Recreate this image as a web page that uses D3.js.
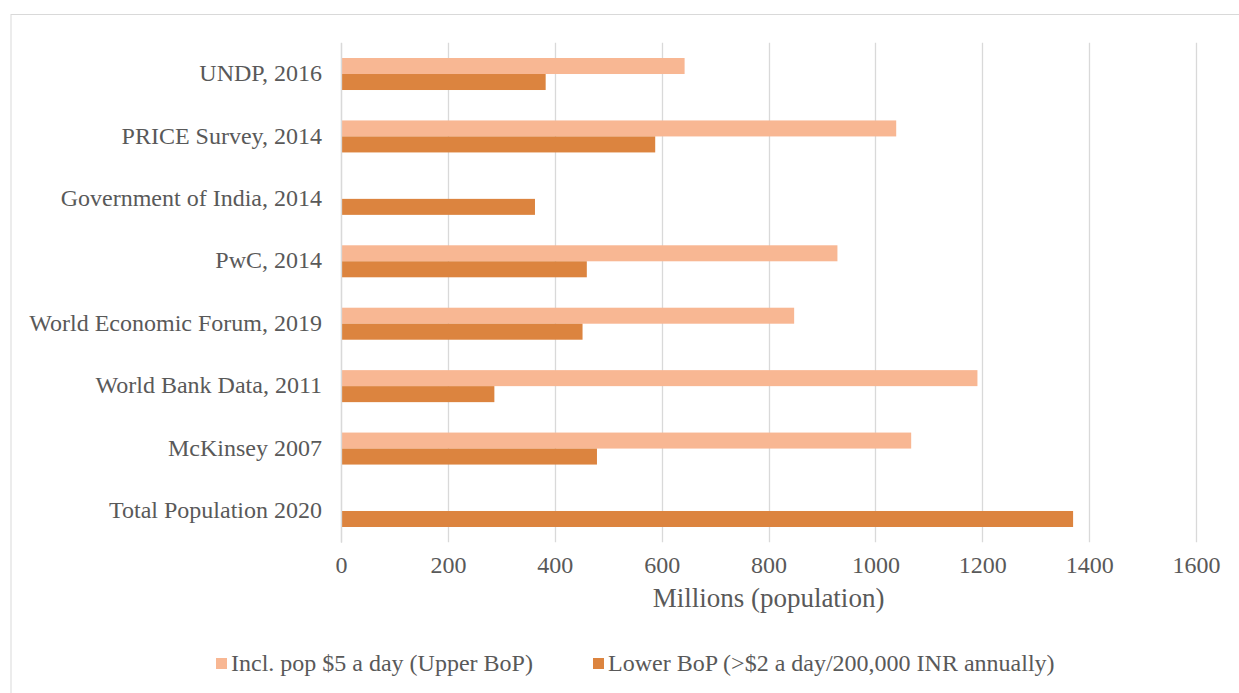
<!DOCTYPE html>
<html><head><meta charset="utf-8">
<script src="https://cdn.jsdelivr.net/npm/d3@7"></script>
<style>body{margin:0;background:#fff;}svg{display:block;font-family:'Liberation Serif','Times New Roman',serif;}</style>
</head><body>
<svg id="c" width="1239" height="693"></svg>
<script>
const categories = ["UNDP, 2016","PRICE Survey, 2014","Government of India, 2014","PwC, 2014","World Economic Forum, 2019","World Bank Data, 2011","McKinsey 2007","Total Population 2020"];
const upperBoP = [643, 1039, null, 929, 848, 1191, 1067, null];
const lowerBoP = [383, 588, 363, 460, 452, 287, 479, 1370];
const seriesNames = ["Incl. pop $5 a day (Upper BoP)", "Lower BoP (>$2 a day/200,000 INR annually)"];
const xTicks = [0,200,400,600,800,1000,1200,1400,1600];
const colors = ["#F8B793", "#DC843F"];

(function(){
const FONT = "'Liberation Serif', 'Times New Roman', serif";
const svg = d3.select("#c");
svg.append("rect").attr("x",11).attr("y",14.5).attr("width",1240).attr("height",700)
  .attr("fill","#fff").attr("stroke","#d9d9d9").attr("stroke-width",1);

const pL = 341, pR = 1196, pT = 42.8, pB = 542.2;
const x = d3.scaleLinear().domain([0,1600]).range([pL,pR]);
const y = d3.scaleBand().domain(categories).range([pT,pB]).paddingInner(0).paddingOuter(0);
const sub = d3.scaleBand().domain([0,1]).range([y.bandwidth()/2-16, y.bandwidth()/2+16]);

svg.append("g").selectAll("line").data(xTicks).join("line")
  .attr("x1",d=>Math.round(x(d))+0.5).attr("x2",d=>Math.round(x(d))+0.5)
  .attr("y1",pT).attr("y2",pB)
  .attr("stroke","#d9d9d9").attr("stroke-width",1.3);

const series = [upperBoP, lowerBoP];
series.forEach((vals,si)=>{
  svg.append("g").selectAll("rect").data(categories.map((c,i)=>({c,v:vals[i]})).filter(d=>d.v!=null))
    .join("rect")
    .attr("x",x(0)).attr("y",d=>y(d.c)+sub(si))
    .attr("width",d=>x(d.v)-x(0)).attr("height",sub.bandwidth())
    .attr("fill",colors[si]);
});

const yAxis = d3.axisLeft(y).tickSize(0).tickPadding(19);
const ga = svg.append("g").attr("transform",`translate(${pL},0)`).call(yAxis);
ga.attr("font-family",FONT);
ga.select(".domain").attr("stroke","#d9d9d9").attr("stroke-width",1.3);
ga.selectAll("text").attr("font-size",24).attr("fill","#595959")
  .attr("font-family",FONT).attr("dy","0.3em");

const xAxis = d3.axisBottom(x).tickValues(xTicks).tickFormat(d3.format("d")).tickSize(0).tickPadding(14);
const gx = svg.append("g").attr("transform",`translate(0,${pB})`).call(xAxis);
gx.attr("font-family",FONT);
gx.select(".domain").remove();
gx.selectAll("text").attr("font-size",24).attr("fill","#595959").attr("font-family",FONT);

svg.append("text").attr("x",(pL+pR)/2).attr("y",607).attr("text-anchor","middle")
  .attr("font-family",FONT).attr("font-size",27).attr("fill","#595959").text("Millions (population)");

const legX = [216, 593];
seriesNames.forEach((n,i)=>{
  svg.append("rect").attr("x",legX[i]).attr("y",658).attr("width",11).attr("height",11).attr("fill",colors[i]);
  svg.append("text").attr("x",legX[i]+15).attr("y",671).attr("font-family",FONT).attr("font-size",24).attr("fill","#595959").text(n);
});
})();
</script>
</body></html>
